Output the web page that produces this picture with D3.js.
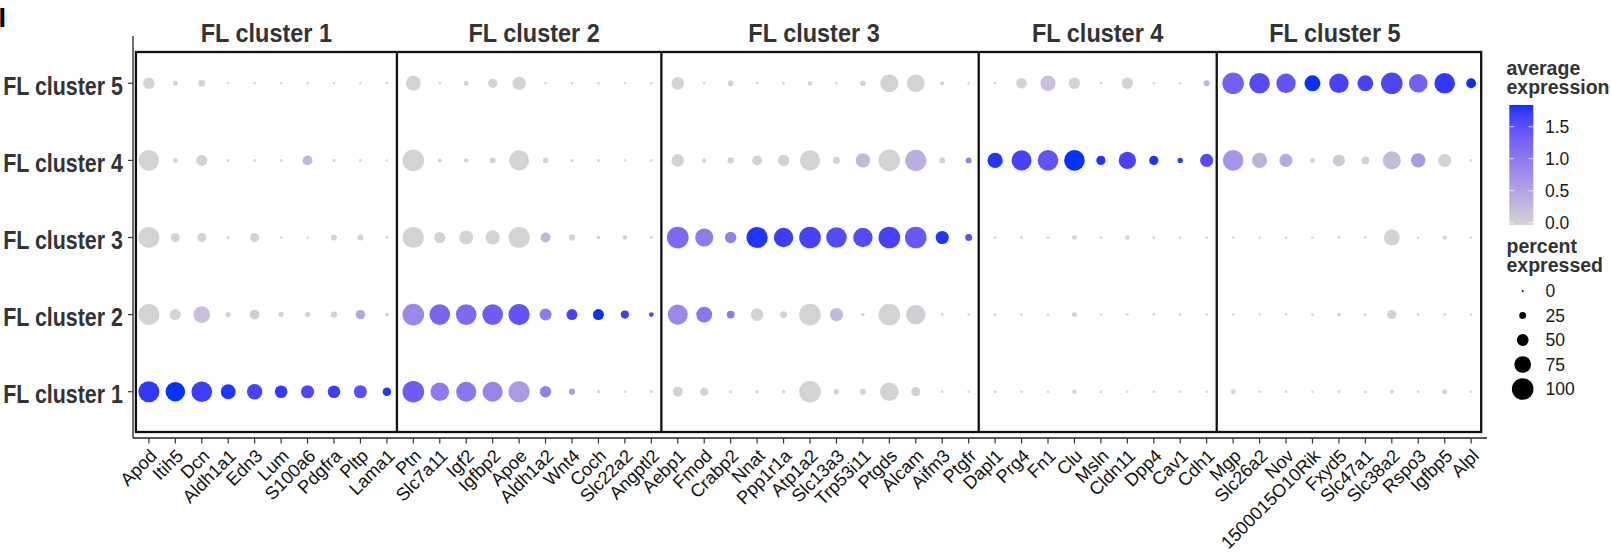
<!DOCTYPE html>
<html>
<head>
<meta charset="utf-8">
<script src="https://cdn.jsdelivr.net/npm/d3@7"></script>
<style>
  html, body { margin: 0; padding: 0; background: #fff; }
  svg { display: block; font-family: "Liberation Sans", Arial, sans-serif; }
</style>
</head>
<body>
<svg id="chart" width="1611" height="556"></svg>
<script>
// ---------------- DATA ----------------
const clusters = ["FL cluster 1", "FL cluster 2", "FL cluster 3", "FL cluster 4", "FL cluster 5"];
const facetTitles = ["FL cluster 1", "FL cluster 2", "FL cluster 3", "FL cluster 4", "FL cluster 5"];
const genesF1 = ["Apod", "Itih5", "Dcn", "Aldh1a1", "Edn3", "Lum", "S100a6", "Pdgfra", "Pltp", "Lama1"];
const genesF2 = ["Ptn", "Slc7a11", "Igf2", "Igfbp2", "Apoe", "Aldh1a2", "Wnt4", "Coch", "Slc22a2", "Angptl2"];
const genesF3 = ["Aebp1", "Fmod", "Crabp2", "Nnat", "Ppp1r1a", "Atp1a2", "Slc13a3", "Trp53i11", "Ptgds", "Alcam", "Aifm3", "Ptgfr"];
const genesF4 = ["Dapl1", "Prg4", "Fn1", "Clu", "Msln", "Cldn11", "Dpp4", "Cav1", "Cdh1"];
const genesF5 = ["Mgp", "Slc26a2", "Nov", "1500015O10Rik", "Fxyd5", "Slc47a1", "Slc38a2", "Rspo3", "Igfbp5", "Alpl"];

// percent expressed per cluster (gene order: F1..F5)
const pctC1 = [97, 89, 95, 66, 68, 54, 57, 54, 57, 33,
               100, 85, 92, 92, 98, 48, 22, 5, 2, 5,
               40, 30, 4, 8, 8, 100, 17, 20, 85, 37, 3, 3,
               3, 3, 3, 12, 2, 3, 3, 3, 3,
               15, 3, 3, 3, 4, 3, 10, 3, 15, 3];
const pctC2 = [98, 46, 75, 17, 40, 17, 17, 22, 38, 10,
               100, 95, 95, 95, 98, 51, 46, 46, 31, 14,
               92, 71, 30, 54, 25, 100, 57, 8, 100, 89, 4, 3,
               3, 3, 3, 15, 2, 4, 3, 3, 3,
               3, 3, 3, 3, 8, 3, 37, 3, 4, 2];
const pctC3 = [98, 36, 35, 5, 35, 3, 2, 20, 20, 5,
               98, 46, 61, 63, 98, 40, 22, 8, 14, 5,
               100, 82, 48, 98, 89, 100, 95, 89, 100, 100, 57, 25,
               3, 4, 6, 13, 2, 13, 4, 2, 3,
               3, 3, 3, 3, 4, 3, 71, 3, 10, 3];
const pctC4 = [95, 15, 46, 3, 4, 3, 40, 5, 5, 2,
               100, 10, 12, 20, 92, 17, 5, 4, 2, 3,
               54, 12, 22, 40, 48, 92, 25, 63, 100, 98, 20, 20,
               68, 92, 95, 95, 37, 78, 37, 17, 57,
               95, 68, 57, 15, 51, 30, 82, 63, 57, 3];
const pctC5 = [49, 15, 25, 2, 2, 2, 2, 2, 2, 2,
               66, 3, 15, 37, 57, 3, 2, 3, 2, 3,
               54, 4, 20, 3, 4, 14, 2, 17, 82, 80, 10, 2,
               3, 44, 68, 48, 3, 48, 2, 3, 20,
               100, 95, 89, 71, 89, 71, 100, 85, 95, 40];

// average expression per cluster
const expC1 = [1.75, 1.84, 1.7, 1.8, 1.65, 1.75, 1.6, 1.7, 1.5, 1.8,
               1.35, 1.0, 1.05, 0.9, 0.65, 0.95, 0.55, 0.1, 0, 0,
               0, 0, 0, 0, 0, 0, 0, 0, 0, 0, 0, 0,
               0, 0, 0, 0, 0, 0, 0, 0, 0,
               0, 0, 0, 0, 0, 0, 0, 0, 0, 0];
const expC2 = [0, 0, 0.2, 0, 0.05, 0, 0, 0, 0.5, 0,
               0.85, 1.25, 1.2, 1.35, 1.45, 1.0, 1.65, 1.84, 1.7, 1.6,
               0.85, 1.05, 1.0, 0, 0, 0, 0.3, 0, 0, 0.05, 0, 0,
               0, 0, 0, 0, 0, 0, 0, 0, 0,
               0, 0, 0, 0, 0, 0, 0, 0, 0, 0];
const expC3 = [0, 0, 0, 0, 0, 0, 0, 0, 0, 0,
               0, 0, 0, 0, 0, 0.3, 0, 0, 0, 0,
               1.2, 1.0, 0.95, 1.8, 1.7, 1.65, 1.55, 1.55, 1.65, 1.4, 1.8, 1.5,
               0, 0, 0, 0, 0, 0, 0, 0, 0,
               0, 0, 0, 0, 0, 0, 0, 0, 0, 0];
const expC4 = [0, 0, 0, 0, 0, 0, 0.3, 0, 0, 0,
               0, 0, 0, 0, 0, 0, 0, 0, 0, 0,
               0, 0, 0, 0, 0, 0, 0, 0.3, 0, 0.4, 0, 0.9,
               1.8, 1.65, 1.45, 1.84, 1.8, 1.65, 1.8, 1.75, 1.55,
               0.7, 0.35, 0.45, 0, 0.1, 0, 0.25, 0.65, 0, 0];
const expC5 = [0, 0, 0, 0, 0, 0, 0, 0, 0, 0,
               0, 0, 0, 0, 0, 0, 0, 0, 0, 0,
               0, 0, 0, 0, 0, 0, 0, 0, 0, 0, 0, 0,
               0, 0, 0.2, 0, 0, 0, 0, 0, 0.3,
               1.3, 1.55, 1.45, 1.84, 1.65, 1.65, 1.6, 1.3, 1.75, 1.84];

const colorTicks = [0.0, 0.5, 1.0, 1.5];
const sizeTicks = [0, 25, 50, 75, 100];

// ---------------- BUILD ----------------
const facets = [genesF1, genesF2, genesF3, genesF4, genesF5];
const genes = facets.flat();
const pctRows = [pctC1, pctC2, pctC3, pctC4, pctC5];
const expRows = [expC1, expC2, expC3, expC4, expC5];
const cells = [];
clusters.forEach((c, ci) => {
  genes.forEach((g, gi) => {
    cells.push({ cluster: c, gene: g, pct: pctRows[ci][gi], exp: expRows[ci][gi] });
  });
});

const svg = d3.select("#chart");

const x = d3.scalePoint().domain(genes).range([133, 1487]).padding(0.6);
const y = d3.scalePoint().domain(clusters).range([438, 37]).padding(0.6);
const step = x.step();

const expMax = d3.max(cells, d => d.exp);
const color = d3.scaleLinear().domain([0, expMax]).range(["lightgrey", "#0532ff"]).interpolate(d3.interpolateLab);
const r = d3.scaleLinear().domain([0, 100]).range([1, 10.8]);

function squeeze(sel, factor) {
  sel.each(function () {
    const w = this.getComputedTextLength();
    this.setAttribute("textLength", w * factor);
    this.setAttribute("lengthAdjust", "spacingAndGlyphs");
  });
}

// panel label
svg.append("text").attr("x", -1.5).attr("y", 27)
  .attr("font-size", 27).attr("font-weight", "bold").attr("fill", "#000").text("I");

// axis lines
svg.append("line").attr("x1", 133).attr("x2", 133).attr("y1", 36).attr("y2", 438)
  .attr("stroke", "#222").attr("stroke-width", 1.3);
svg.append("line").attr("x1", 133).attr("x2", 1487).attr("y1", 438).attr("y2", 438)
  .attr("stroke", "#222").attr("stroke-width", 1.3);

// y ticks and labels
const yAxis = svg.append("g");
clusters.forEach(c => {
  yAxis.append("line").attr("x1", 128).attr("x2", 133).attr("y1", y(c)).attr("y2", y(c))
    .attr("stroke", "#333").attr("stroke-width", 1.2);
});
yAxis.selectAll("text.ylab").data(clusters).join("text")
  .attr("class", "ylab")
  .attr("x", 123).attr("y", d => y(d) + 11.7)
  .attr("text-anchor", "end").attr("font-size", 25.5).attr("font-weight", "bold")
  .attr("fill", "#333").text(d => d)
  .call(squeeze, 0.84);

// x ticks and labels
const xAxis = svg.append("g");
xAxis.selectAll("line").data(genes).join("line")
  .attr("x1", d => x(d)).attr("x2", d => x(d)).attr("y1", 438).attr("y2", 443.5)
  .attr("stroke", "#333").attr("stroke-width", 1.2);
xAxis.selectAll("text").data(genes).join("text")
  .attr("transform", d => `translate(${x(d) + 9},457) rotate(-45)`)
  .attr("text-anchor", "end").attr("font-size", 18.2).attr("fill", "#111")
  .text(d => d);

// dots
svg.append("g").selectAll("circle").data(cells).join("circle")
  .attr("cx", d => x(d.gene)).attr("cy", d => y(d.cluster))
  .attr("r", d => r(d.pct)).attr("fill", d => color(d.exp));

// facet boxes
const boxTop = 52, boxBottom = 432;
const bounds = [x(genes[0]) - 0.49 * step];
facets.forEach(f => bounds.push(x(f[f.length - 1]) + 0.38 * step));
const boxes = svg.append("g").attr("fill", "none").attr("stroke", "#111").attr("stroke-width", 2.3);
boxes.append("rect").attr("x", bounds[0]).attr("y", boxTop)
  .attr("width", bounds[bounds.length - 1] - bounds[0]).attr("height", boxBottom - boxTop);
bounds.slice(1, -1).forEach(b => {
  boxes.append("line").attr("x1", b).attr("x2", b).attr("y1", boxTop).attr("y2", boxBottom);
});

// facet titles
const titleShift = [0, 5, -6, 0, -14];
svg.append("g").selectAll("text").data(facetTitles).join("text")
  .attr("x", (d, i) => (bounds[i] + bounds[i + 1]) / 2 + titleShift[i]).attr("y", 41.7)
  .attr("text-anchor", "middle").attr("font-size", 26.5).attr("font-weight", "bold")
  .attr("fill", "#333").text(d => d)
  .call(squeeze, 0.886);

// ---------------- LEGEND ----------------
const lg = svg.append("g");
const lx = 1506.5;
lg.append("text").attr("x", lx).attr("y", 74.5).attr("font-size", 19.5).attr("font-weight", "bold").attr("fill", "#333").text("average");
lg.append("text").attr("x", lx).attr("y", 93.5).attr("font-size", 19.5).attr("font-weight", "bold").attr("fill", "#333").text("expression");

const yLeg = d3.scaleLinear().domain([0, 1.5]).range([222.7, 126.7]);
const barX = 1509.3, barW = 24;
const barTop = yLeg(expMax), barBottom = yLeg(0) + 2.3;
const defs = svg.append("defs");
const grad = defs.append("linearGradient").attr("id", "cbar").attr("x1", 0).attr("x2", 0).attr("y1", 1).attr("y2", 0);
d3.range(0, 1.0001, 0.05).forEach(t => {
  grad.append("stop").attr("offset", t).attr("stop-color", color(t * expMax));
});
lg.append("rect").attr("x", barX).attr("y", barTop).attr("width", barW).attr("height", barBottom - barTop)
  .attr("fill", "url(#cbar)");
colorTicks.forEach(v => {
  lg.append("line").attr("x1", barX).attr("x2", barX + barW / 5).attr("y1", yLeg(v)).attr("y2", yLeg(v))
    .attr("stroke", "#fff").attr("stroke-width", 1).attr("stroke-opacity", 0.7);
  lg.append("line").attr("x1", barX + barW * 4 / 5).attr("x2", barX + barW).attr("y1", yLeg(v)).attr("y2", yLeg(v))
    .attr("stroke", "#fff").attr("stroke-width", 1).attr("stroke-opacity", 0.7);
});
lg.selectAll("text.ctick").data(colorTicks).join("text").attr("class", "ctick")
  .attr("x", 1545).attr("y", d => yLeg(d) + 6.3)
  .attr("font-size", 17.5).attr("fill", "#1a1a1a").text(d => d.toFixed(1));

lg.append("text").attr("x", lx).attr("y", 252.5).attr("font-size", 19.5).attr("font-weight", "bold").attr("fill", "#333").text("percent");
lg.append("text").attr("x", lx).attr("y", 272).attr("font-size", 19.5).attr("font-weight", "bold").attr("fill", "#333").text("expressed");

const ySize = d3.scalePoint().domain(sizeTicks).range([291, 389]);
lg.selectAll("circle").data(sizeTicks).join("circle")
  .attr("cx", 1522.7).attr("cy", d => ySize(d)).attr("r", d => r(d)).attr("fill", "#000");
lg.selectAll("text.stick").data(sizeTicks).join("text").attr("class", "stick")
  .attr("x", 1545.5).attr("y", d => ySize(d) + 6.3)
  .attr("font-size", 17.5).attr("fill", "#1a1a1a").text(d => d);
</script>
</body>
</html>
